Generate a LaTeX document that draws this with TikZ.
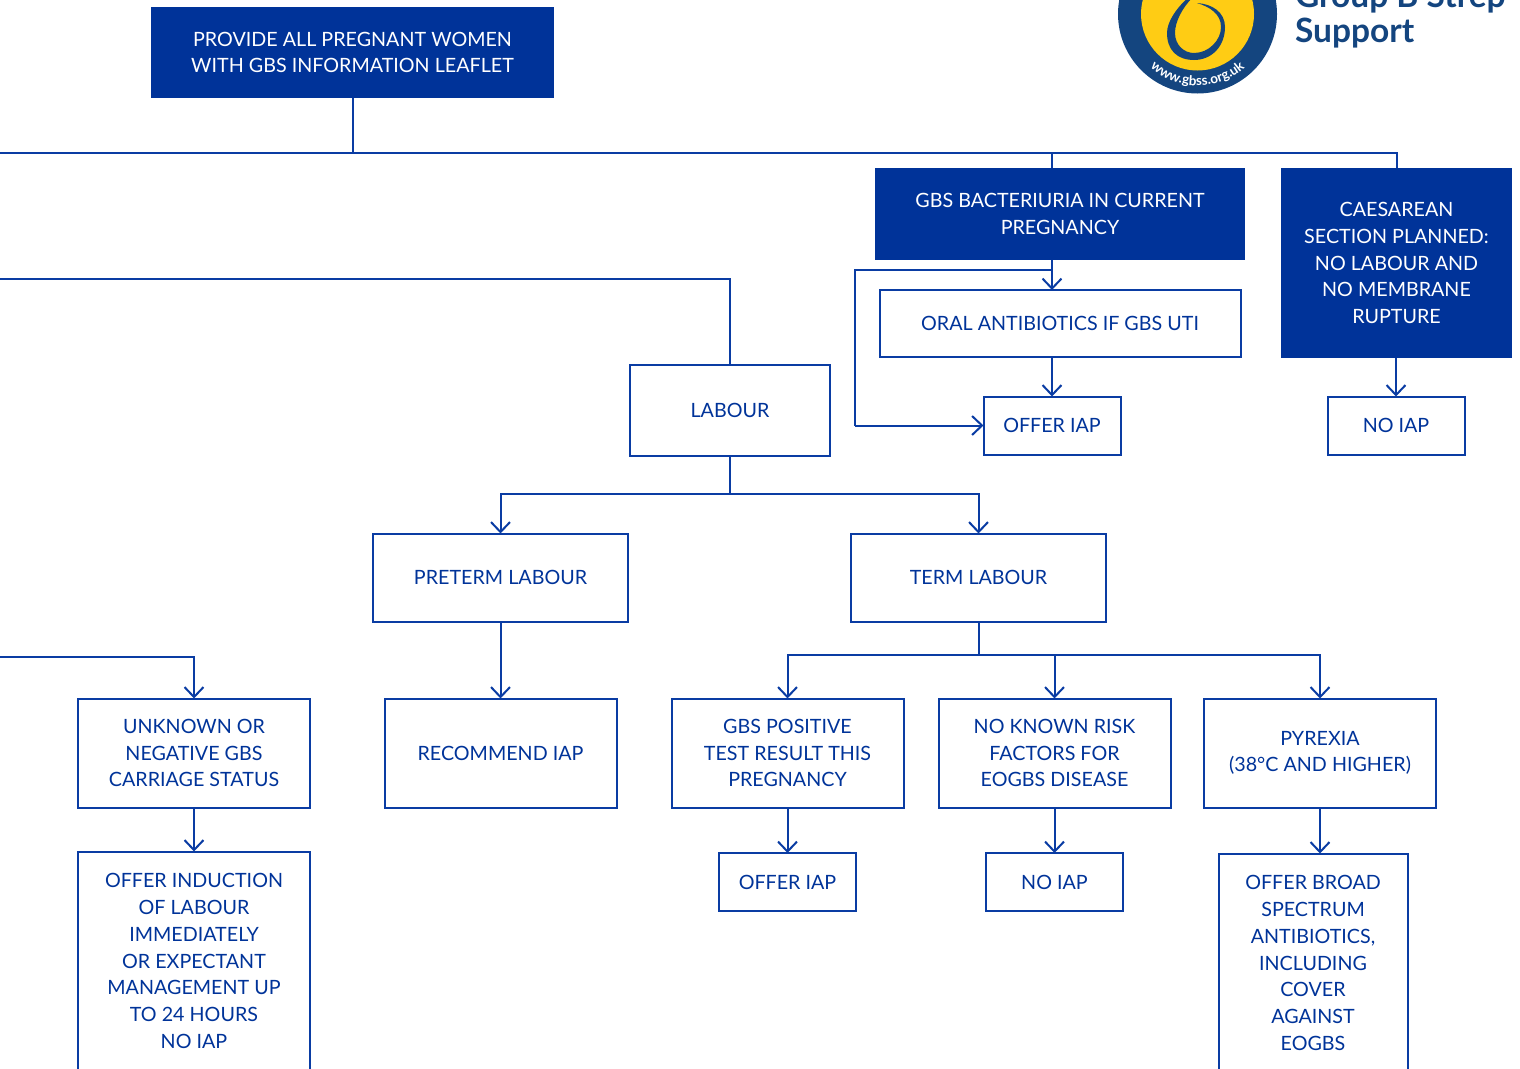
\documentclass[tikz,border=0pt]{standalone}
\usepackage{fontspec}
\setmainfont{Lato}
\usetikzlibrary{arrows.meta,decorations.text}
\definecolor{gbsblue}{HTML}{003399}
\definecolor{gbsline}{HTML}{0A3CA3}
\definecolor{logoblue}{HTML}{14457F}
\definecolor{logoyellow}{HTML}{FFCC14}
\begin{document}
\begin{tikzpicture}[x=1pt,y=-1pt]
		\tikzstyle{every node}=[font=\fontsize{19.7}{26.7}\selectfont, align=center, inner sep=0pt, outer sep=0pt]
		\tikzstyle{box}=[draw=gbsline, line width=2pt, text=gbsblue]
		\tikzstyle{filledbox}=[fill=gbsblue, text=white]
		\tikzstyle{link}=[line width=2pt, draw=gbsline]
		\tikzstyle{arrow}=[link, ->, >={Straight Barb[length=10pt,width=19pt]}]
		\useasboundingbox (0,0) rectangle (1520,1068);
		\clip (0,0) rectangle (1520,1068);
		% logo
		\fill [logoblue] (1197.5,14) circle (79.5);
		\fill [logoyellow] (1197.5,14) circle (56.5);
		\fill [logoblue] (1197,3) .. controls (1212,4) and (1225,12) .. (1225,27) .. controls (1225,46) and (1212,60) .. (1194,60) .. controls (1177,60) and (1167,50) .. (1167,33) .. controls (1167,22) and (1176,8) .. (1190,-4) -- (1193,-3) .. controls (1182,8) and (1175,22) .. (1175,33) .. controls (1175,45) and (1184,53) .. (1194,53) .. controls (1209,53) and (1221,40) .. (1221,27) .. controls (1221,14) and (1210,7) .. cycle;
		\path [postaction={decorate, decoration={text along path, text align=center, text={|\fontsize{13.5}{13.5}\selectfont\bfseries\color{white}|www.gbss.org.uk}}}] (1197.5,14) ++(135:71.5) arc [start angle=135, end angle=45, radius=71.5];
		\node [anchor=base west, text=logoblue, font=\fontsize{33.5}{33.5}\selectfont\bfseries] (gbslogo) at (1295,7) {Group B Strep};
		\node [anchor=base west, text=logoblue, font=\fontsize{33.5}{33.5}\selectfont\bfseries] (support) at (1295,42) {Support};
		% boxes
		\node [filledbox, minimum width=403pt, minimum height=91pt] (leaflet) at (352.5,52.5) {PROVIDE ALL PREGNANT WOMEN\\WITH GBS INFORMATION LEAFLET};
		\node [filledbox, minimum width=370pt, minimum height=92pt] (bacteriuria) at (1060,214) {GBS BACTERIURIA IN CURRENT\\PREGNANCY};
		\node [filledbox, minimum width=231pt, minimum height=190pt] (caesarean) at (1396.5,263) {CAESAREAN\\SECTION PLANNED:\\NO LABOUR AND\\NO MEMBRANE\\RUPTURE};
		\node [box, minimum width=361pt, minimum height=67pt] (oral) at (1060,323.5) {ORAL ANTIBIOTICS IF GBS UTI};
		\node [box, minimum width=137pt, minimum height=58pt] (offertop) at (1052,425.5) {OFFER IAP};
		\node [box, minimum width=137pt, minimum height=58pt] (noiaptop) at (1396,425.5) {NO IAP};
		\node [box, minimum width=200pt, minimum height=91pt] (labour) at (730,410) {LABOUR};
		\node [box, minimum width=255pt, minimum height=88pt] (preterm) at (500.5,577.5) {PRETERM LABOUR};
		\node [box, minimum width=255pt, minimum height=88pt] (term) at (978.5,577.5) {TERM LABOUR};
		\node [box, minimum width=232pt, minimum height=109pt] (unknown) at (194,753) {UNKNOWN OR\\NEGATIVE GBS\\CARRIAGE STATUS};
		\node [box, minimum width=232pt, minimum height=109pt] (recommend) at (500.5,753) {RECOMMEND IAP};
		\node [box, minimum width=232pt, minimum height=109pt] (positive) at (787.5,753) {GBS POSITIVE\\TEST RESULT THIS\\PREGNANCY};
		\node [box, minimum width=232pt, minimum height=109pt] (norisk) at (1054.5,753) {NO KNOWN RISK\\FACTORS FOR\\EOGBS DISEASE};
		\node [box, minimum width=232pt, minimum height=109pt] (pyrexia) at (1320,753) {PYREXIA\\(38°C AND HIGHER)};
		\node [box, minimum width=232pt, minimum height=219pt] (induction) at (194,961) {OFFER INDUCTION\\OF LABOUR\\IMMEDIATELY\\OR EXPECTANT\\MANAGEMENT UP\\TO 24 HOURS\\NO IAP};
		\node [box, minimum width=137pt, minimum height=58pt] (offerlow) at (787.5,882) {OFFER IAP};
		\node [box, minimum width=137pt, minimum height=58pt] (noiaplow) at (1054.5,882) {NO IAP};
		\node [box, minimum width=189pt, minimum height=219pt] (broad) at (1313,963) {OFFER BROAD\\SPECTRUM\\ANTIBIOTICS,\\INCLUDING\\COVER\\AGAINST\\EOGBS};
		% free ends and junctions
		\coordinate (topleft) at (0,152.5);
		\coordinate (midleft) at (0,279);
		\coordinate (lowleft) at (0,657);
		\coordinate (topbar) at (352.5,152.5);
		\coordinate (bactbranch) at (1052,270);
		\coordinate (bactleft) at (855,270);
		\coordinate (labourbar) at (730,494);
		\coordinate (termbar) at (978.5,655);
		% connectors
		\draw [link] (leaflet.south) -- (topbar);
		\draw [link] (topleft) -- (caesarean.north |- topleft) -- (caesarean.north);
		\draw [link] (offertop.north |- topleft) -- (offertop.north |- bacteriuria.north);
		\draw [arrow] (offertop.north |- bacteriuria.south) -- (offertop.north |- oral.north);
		\draw [link] (bactbranch) -- (bactleft) -- (bactleft |- offertop.west);
		\draw [arrow] (bactleft |- offertop.west) -- (offertop.west);
		\draw [arrow] (offertop.north |- oral.south) -- (offertop.north);
		\draw [arrow] (noiaptop.north |- caesarean.south) -- (noiaptop.north);
		\draw [link] (midleft) -- (labour.north |- midleft) -- (labour.north);
		\draw [link] (labour.south) -- (labourbar);
		\draw [arrow] (labourbar) -- (preterm.north |- labourbar) -- (preterm.north);
		\draw [arrow] (labourbar) -- (term.north |- labourbar) -- (term.north);
		\draw [arrow] (preterm.south) -- (recommend.north);
		\draw [link] (term.south) -- (termbar);
		\draw [arrow] (termbar) -- (positive.north |- termbar) -- (positive.north);
		\draw [arrow] (norisk.north |- termbar) -- (norisk.north);
		\draw [arrow] (termbar) -- (pyrexia.north |- termbar) -- (pyrexia.north);
		\draw [arrow] (lowleft) -- (unknown.north |- lowleft) -- (unknown.north);
		\draw [arrow] (unknown.south) -- (induction.north);
		\draw [arrow] (positive.south) -- (offerlow.north);
		\draw [arrow] (norisk.south) -- (noiaplow.north);
		\draw [arrow] (pyrexia.south) -- (pyrexia.south |- broad.north);
\end{tikzpicture}
\end{document}
